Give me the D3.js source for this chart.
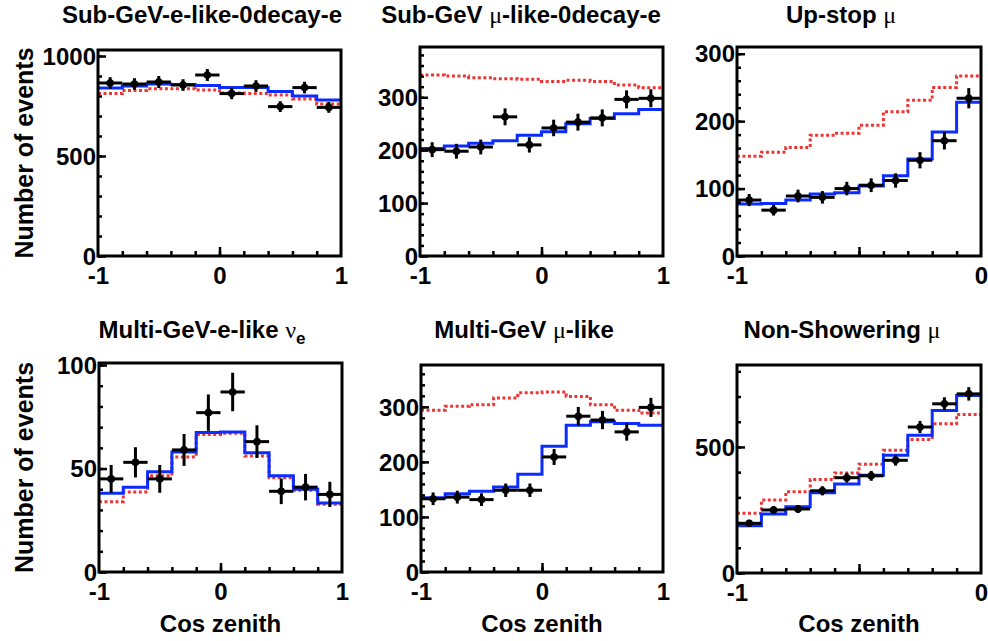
<!DOCTYPE html>
<html><head><meta charset="utf-8">
<script src="https://cdn.jsdelivr.net/npm/d3@7"></script>
<style>
body{margin:0;background:#fff}
svg{display:block}
text{font-family:"Liberation Sans",Arial,Helvetica,sans-serif;font-weight:bold;fill:#000}
</style>
</head><body>
<svg id="c" width="988" height="641"></svg>
<script>
// ---------- DATA ----------
const edgesFull = [-1, -0.8, -0.6, -0.4, -0.2, 0, 0.2, 0.4, 0.6, 0.8, 1];
const edgesUp   = [-1, -0.9, -0.8, -0.7, -0.6, -0.5, -0.4, -0.3, -0.2, -0.1, 0];

// Sub-GeV e-like 0 decay-e
const subE_data  = [865, 860, 870, 855, 905, 812, 850, 747, 842, 743];
const subE_err   = [29, 29, 30, 29, 30, 28, 29, 27, 29, 27];
const subE_osc   = [840, 850, 860, 858, 852, 843, 843, 822, 800, 780];
const subE_nosc  = [813, 828, 836, 836, 830, 815, 813, 805, 785, 760];

// Sub-GeV mu-like 0 decay-e
const subMu_data = [201, 198, 206, 263, 210, 242, 253, 261, 296, 298];
const subMu_err  = [14, 14, 14, 16, 14.5, 15.6, 16, 16, 17, 17];
const subMu_osc  = [203, 208, 213, 218, 228, 235, 250, 260, 269, 277];
const subMu_nosc = [342, 340, 337, 335, 334, 330, 332, 330, 323, 318];

// Up-stop mu
const upMu_data  = [83, 68, 89, 87, 100, 105, 112, 142, 171, 234];
const upMu_err   = [9, 8, 9.4, 9.3, 10, 10.2, 10.6, 12, 13, 15];
const upMu_osc   = [77, 78, 83, 92, 94, 104, 119, 144, 184, 228];
const upMu_nosc  = [148, 154, 161, 179, 182, 194, 214, 231, 250, 267];

// Multi-GeV e-like nu_e
const mE_data    = [45, 53, 45, 59, 77, 87, 63, 39, 41, 37.5];
const mE_err     = [6.7, 7.3, 6.7, 7.7, 8.8, 9.3, 7.9, 6.2, 6.4, 6.1];
const mE_osc     = [38, 41, 48.4, 58, 67.4, 67.7, 57.6, 46.5, 40, 33.4];
const mE_nosc    = [34, 38.7, 46.5, 55.6, 66.5, 67, 56, 45.5, 39.5, 32.7];

// Multi-GeV mu-like
const mMu_data   = [133, 136, 131.5, 148.5, 148.5, 209, 283, 276, 254.5, 299];
const mMu_err    = [11.5, 11.7, 11.5, 12.2, 12.2, 14.5, 16.8, 16.6, 15.9, 17.3];
const mMu_osc    = [135, 142, 146.7, 154.5, 177.6, 228.5, 266.7, 272.7, 269.7, 266.7];
const mMu_nosc   = [294, 301, 304, 316, 325.5, 327, 319, 304, 294, 289];

// Non-showering mu
const nsMu_data  = [197, 250, 254, 326, 378, 385.5, 447, 579, 671, 710.5];
const nsMu_err   = [14, 15.8, 15.9, 18.1, 19.4, 19.6, 21.1, 24.1, 25.9, 26.6];
const nsMu_osc   = [187, 234, 263, 318, 353, 388, 467, 546, 645, 704];
const nsMu_nosc  = [237, 289.5, 322, 371, 397, 431.6, 487, 530, 592, 629];

// Titles (text runs: b = bold, g = greek, s = subscript)
const titles = [
  [["Sub-GeV-e-like-0decay-e","b"]],
  [["Sub-GeV ","b"],["μ","g"],["-like-0decay-e","b"]],
  [["Up-stop ","b"],["μ","g"]],
  [["Multi-GeV-e-like ","b"],["ν","g"],["e","s"]],
  [["Multi-GeV ","b"],["μ","g"],["-like","b"]],
  [["Non-Showering ","b"],["μ","g"]]
];
const yMajorTicks = [[0,500,1000],[0,100,200,300],[0,100,200,300],[0,50,100],[0,100,200,300],[0,500]];
const yMinorStep  = [100, 20, 20, 10, 20, 100];
const yMax        = [1030, 395, 310, 101, 376, 825];
const xLabelFull  = [-1, 0, 1];
const xLabelUp    = [-1, 0];
const xAxisTitle  = "Cos zenith";
const yAxisTitle  = "Number of events";

// ---------- LAYOUT ----------
const layout = [
  {l:98,  r:341, t:50, b:256, tx:202, ty:23},
  {l:420, r:663, t:47, b:256, tx:521, ty:23},
  {l:737, r:981, t:47, b:256, tx:841, ty:23},
  {l:99,  r:342, t:363, b:572, tx:202, ty:338},
  {l:421, r:663, t:365, b:572, tx:524, ty:338},
  {l:737, r:981, t:365, b:573, tx:842, ty:338}
];
const series = [
  {edges:edgesFull, data:subE_data,  err:subE_err,  osc:subE_osc,  nosc:subE_nosc,  xl:xLabelFull},
  {edges:edgesFull, data:subMu_data, err:subMu_err, osc:subMu_osc, nosc:subMu_nosc, xl:xLabelFull},
  {edges:edgesUp,   data:upMu_data,  err:upMu_err,  osc:upMu_osc,  nosc:upMu_nosc,  xl:xLabelUp},
  {edges:edgesFull, data:mE_data,    err:mE_err,    osc:mE_osc,    nosc:mE_nosc,    xl:xLabelFull},
  {edges:edgesFull, data:mMu_data,   err:mMu_err,   osc:mMu_osc,   nosc:mMu_nosc,   xl:xLabelFull},
  {edges:edgesUp,   data:nsMu_data,  err:nsMu_err,  osc:nsMu_osc,  nosc:nsMu_nosc,  xl:xLabelUp}
];

const svg = d3.select("#c");
const BLUE = "#0b2cff", RED = "#ee3535";

series.forEach((s, i) => {
  const L = layout[i];
  const e = s.edges;
  const x = d3.scaleLinear().domain([e[0], e[e.length-1]]).range([L.l, L.r]);
  const y = d3.scaleLinear().domain([0, yMax[i]]).range([L.b, L.t]);
  const g = svg.append("g");
  const clipId = "clip" + i;
  svg.append("clipPath").attr("id", clipId).append("rect")
    .attr("x", L.l).attr("y", L.t).attr("width", L.r - L.l).attr("height", L.b - L.t);

  // step histograms
  const stepPts = v => v.map((d, k) => [e[k], d]).concat([[e[e.length-1], v[v.length-1]]]);
  const line = d3.line().x(d => x(d[0])).y(d => y(d[1])).curve(d3.curveStepAfter);
  const plot = g.append("g").attr("clip-path", `url(#${clipId})`);
  plot.append("path").attr("d", line(stepPts(s.nosc))).attr("fill", "none")
    .attr("stroke", RED).attr("stroke-width", 3).attr("stroke-dasharray", "3,2.5");
  plot.append("path").attr("d", line(stepPts(s.osc))).attr("fill", "none")
    .attr("stroke", BLUE).attr("stroke-width", 3);

  // data points with error bars
  s.data.forEach((d, k) => {
    const xc = (e[k] + e[k+1]) / 2;
    plot.append("line").attr("x1", x(e[k])).attr("x2", x(e[k+1])).attr("y1", y(d)).attr("y2", y(d))
      .attr("stroke", "#000").attr("stroke-width", 3);
    plot.append("line").attr("x1", x(xc)).attr("x2", x(xc)).attr("y1", y(d - s.err[k])).attr("y2", y(d + s.err[k]))
      .attr("stroke", "#000").attr("stroke-width", 3);
    plot.append("circle").attr("cx", x(xc)).attr("cy", y(d)).attr("r", 3.8).attr("fill", "#000");
  });

  // axes
  const fmt = v => String(v);
  const xMinor = e.slice(1, -1);
  const halfTick = e[e.length-1] === 0 ? [-0.5] : [0];
  const xa = g.append("g").attr("transform", `translate(0,${L.b})`)
    .call(d3.axisBottom(x).tickValues(xMinor).tickSize(-5).tickFormat(""));
  const xb = g.append("g").attr("transform", `translate(0,${L.b})`)
    .call(d3.axisBottom(x).tickValues(halfTick).tickSize(-9).tickFormat(""));
  const xc2 = g.append("g").attr("transform", `translate(0,${L.b})`)
    .call(d3.axisBottom(x).tickValues(s.xl).tickSize(0).tickPadding(11).tickFormat(fmt));
  const yMinor = d3.range(0, yMax[i], yMinorStep[i]);
  const ya = g.append("g").attr("transform", `translate(${L.l},0)`)
    .call(d3.axisLeft(y).tickValues(yMinor).tickSize(-4).tickFormat(""));
  const yb = g.append("g").attr("transform", `translate(${L.l},0)`)
    .call(d3.axisLeft(y).tickValues(yMajorTicks[i]).tickSize(-8).tickPadding(2).tickFormat(fmt));
  [xa, xb, xc2, ya, yb].forEach(a => {
    a.select(".domain").remove();
    a.selectAll("line").attr("stroke", "#000").attr("stroke-width", 2.5);
    a.selectAll("text").attr("font-size", 24).attr("font-family", "Liberation Sans, Arial, sans-serif")
      .attr("font-weight", "bold").attr("fill", "#000");
  });
  yb.selectAll("text").attr("dy", "0.34em");
  xc2.selectAll("text").attr("dy", "0.71em");

  // frame
  g.append("rect").attr("x", L.l).attr("y", L.t).attr("width", L.r - L.l).attr("height", L.b - L.t)
    .attr("fill", "none").attr("stroke", "#000").attr("stroke-width", 3);

  // title
  const t = g.append("text").attr("x", L.tx).attr("y", L.ty).attr("text-anchor", "middle").attr("font-size", 24);
  titles[i].forEach(([txt, st]) => {
    const ts = t.append("tspan").text(txt);
    if (st === "g") ts.attr("font-family", "Liberation Serif, serif").attr("font-weight", "normal");
    if (st === "s") ts.attr("font-size", 17).attr("dy", 6);
  });

  // axis titles
  if (i === 0 || i === 3) {
    g.append("text").attr("transform", `translate(33,${(L.t + L.b) / 2}) rotate(-90)`)
      .attr("text-anchor", "middle").attr("font-size", 25).text(yAxisTitle);
  }
  if (i >= 3) {
    g.append("text").attr("x", (L.l + L.r) / 2).attr("y", 632).attr("text-anchor", "middle")
      .attr("font-size", 24).text(xAxisTitle);
  }
});
</script>
</body></html>
